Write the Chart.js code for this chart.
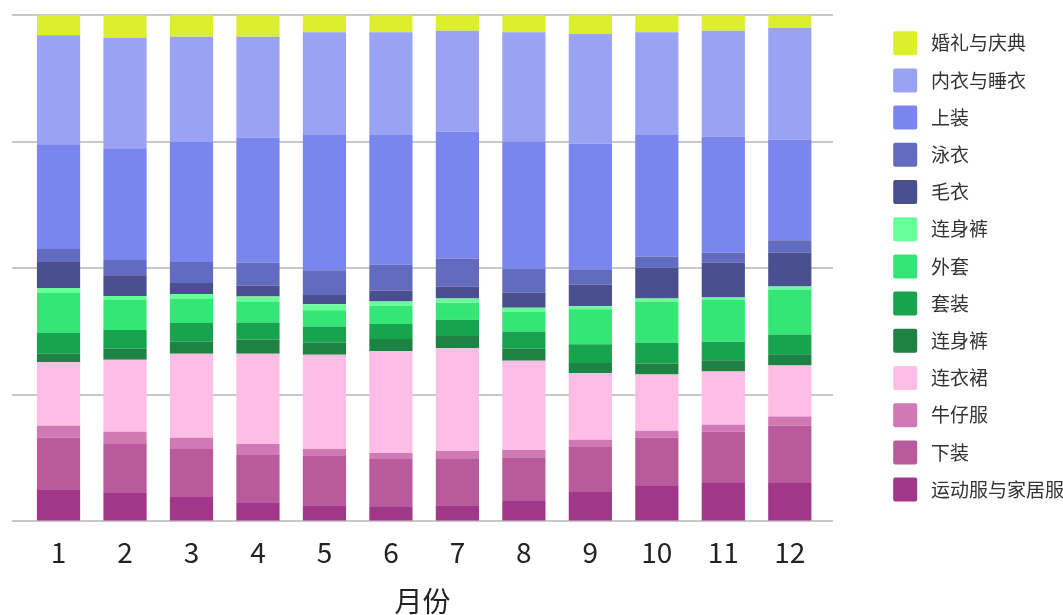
<!DOCTYPE html>
<html>
<head>
<meta charset="utf-8">
<script src="https://cdn.jsdelivr.net/npm/chart.js@4"></script>
<style>
  body { margin: 0; background: #fff; }
  #caja { width: 1063px; height: 615px; position: relative; }
</style>
</head>
<body>
<div id="caja"><canvas id="grafica"></canvas></div>
<script>
// meses del eje x
const meses = [1, 2, 3, 4, 5, 6, 7, 8, 9, 10, 11, 12];

// porcentaje de cada categoría por mes (de abajo hacia arriba)
const deporteHogar = [6.2, 5.6, 4.8, 3.8, 3.2, 3.0, 3.2, 4.2, 5.8, 7.0, 7.6, 7.6];
const pantalones = [10.3, 9.7, 9.5, 9.3, 9.7, 9.3, 9.1, 8.3, 8.9, 9.5, 10.1, 11.3];
const vaqueros = [2.4, 2.4, 2.2, 2.2, 1.4, 1.2, 1.6, 1.6, 1.4, 1.4, 1.4, 1.8];
const vestidos = [12.6, 14.2, 16.6, 17.8, 18.6, 20.1, 20.3, 17.6, 13.2, 11.1, 10.5, 10.1];
const monosOscuro = [1.6, 2.2, 2.4, 2.8, 2.4, 2.4, 2.4, 2.4, 2.0, 2.2, 2.2, 2.2];
const conjuntos = [4.1, 3.7, 3.7, 3.4, 3.2, 3.0, 3.2, 3.4, 3.7, 4.1, 3.7, 3.9];
const abrigos = [7.9, 5.9, 4.7, 4.1, 3.2, 3.6, 3.4, 3.9, 6.9, 8.1, 8.3, 8.9];
const monosClaro = [1.0, 0.8, 1.0, 1.0, 1.2, 0.8, 0.8, 0.8, 0.6, 0.6, 0.4, 0.6];
const jerseis = [5.1, 4.1, 2.2, 2.2, 1.8, 2.2, 2.4, 3.0, 4.3, 6.1, 6.9, 6.7];
const banadores = [2.6, 3.0, 4.1, 4.5, 4.9, 5.1, 5.5, 4.7, 3.0, 2.2, 2.0, 2.4];
const partesArriba = [20.7, 22.1, 23.7, 24.7, 26.7, 25.6, 25.1, 25.1, 24.8, 24.0, 22.9, 19.9];
const lenceria = [21.5, 21.8, 20.8, 19.9, 20.3, 20.3, 19.9, 21.6, 21.7, 20.3, 20.9, 22.1];
const bodas = [4.0, 4.5, 4.3, 4.3, 3.4, 3.4, 3.1, 3.4, 3.7, 3.4, 3.1, 2.5];

const series = [
    { nombre: "运动服与家居服", datos: deporteHogar, color: "#a13788" },
    { nombre: "下装", datos: pantalones, color: "#b85a9c" },
    { nombre: "牛仔服", datos: vaqueros, color: "#d079b4" },
    { nombre: "连衣裙", datos: vestidos, color: "#fdbde5" },
    { nombre: "连身裤", datos: monosOscuro, color: "#1e8244" },
    { nombre: "套装", datos: conjuntos, color: "#18a44e" },
    { nombre: "外套", datos: abrigos, color: "#34e675" },
    { nombre: "连身裤", datos: monosClaro, color: "#66ff99" },
    { nombre: "毛衣", datos: jerseis, color: "#4a4f8f" },
    { nombre: "泳衣", datos: banadores, color: "#626bbf" },
    { nombre: "上装", datos: partesArriba, color: "#7b85ee" },
    { nombre: "内衣与睡衣", datos: lenceria, color: "#9aa3f3" },
    { nombre: "婚礼与庆典", datos: bodas, color: "#dcef2f" }
];

Chart.defaults.font.family = "'Noto Sans CJK SC', sans-serif";
Chart.defaults.color = "#333";

let datasets = series.map((s, i) => ({
    label: s.nombre,
    data: meses.map((m, j) => ({ x: m, y: s.datos[j] })),
    backgroundColor: s.color,
    borderWidth: 0,
    borderRadius: i === series.length - 1 ? { topLeft: 3, topRight: 3 } : 0,
    categoryPercentage: 1,
    barPercentage: 0.65
}));

let miCanvas = document.getElementById("grafica").getContext("2d");

let chart = new Chart(miCanvas, {
    type: "bar",
    data: { datasets: datasets },
    options: {
        responsive: true,
        maintainAspectRatio: false,
        animation: false,
        layout: { padding: { top: 15, left: 12, right: 0, bottom: 0 } },
        plugins: {
            tooltip: { enabled: false },
            legend: {
                position: "right",
                align: "start",
                reverse: true,
                maxWidth: 183,
                title: { display: true, text: "", padding: 0, font: { size: 2.5 } },
                labels: {
                    boxWidth: 24,
                    boxHeight: 24,
                    padding: 13.2,
                    useBorderRadius: true,
                    borderRadius: 2,
                    color: "#333",
                    font: { size: 19 },
                    generateLabels: function (c) {
                        let items = Chart.defaults.plugins.legend.labels.generateLabels(c);
                        items.forEach(it => { it.text = " " + it.text; });
                        return items;
                    }
                }
            }
        },
        scales: {
            x: {
                type: "linear",
                stacked: true,
                offset: false,
                min: 0.3,
                max: 12.65,
                grid: { display: false, drawTicks: false },
                border: { display: false },
                ticks: {
                    stepSize: 1,
                    includeBounds: false,
                    autoSkip: false,
                    maxRotation: 0,
                    padding: 14,
                    color: "#222",
                    font: { size: 28 }
                },
                title: {
                    display: true,
                    text: "月份",
                    color: "#222",
                    padding: { top: 4, bottom: 0 },
                    font: { size: 28, lineHeight: 1 }
                }
            },
            y: {
                stacked: true,
                min: 0,
                max: 100,
                grid: { color: "#c8c8c8", lineWidth: 2, drawTicks: false },
                border: { display: false },
                ticks: { display: false, stepSize: 25 }
            },
            hueco: {
                type: "linear",
                position: "right",
                grid: { display: false, drawTicks: false },
                border: { display: false },
                ticks: { display: false },
                afterFit: function (s) { s.width = 47; }
            }
        }
    }
});
</script>
</body>
</html>
